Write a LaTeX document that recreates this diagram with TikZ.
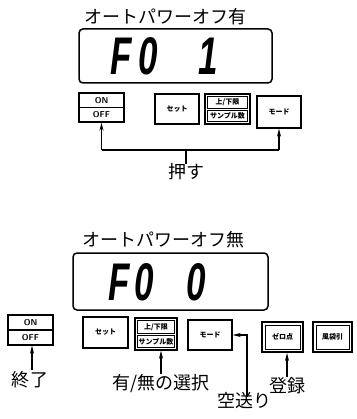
\documentclass[tikz,border=0pt]{standalone}
\usepackage{fontspec}
\newfontfamily\jp{Noto Sans CJK JP}
\newfontfamily\seg{Liberation Sans}
\usetikzlibrary{arrows.meta}
\begin{document}
\begin{tikzpicture}[x=1pt,y=-1pt,
  disp/.style={draw,line width=1.5pt,rounded corners=4pt,inner sep=0pt},
  keybox/.style={draw,line width=1.4pt,inner sep=0pt,minimum height=30pt},
  keytxt/.style={font=\jp\fontsize{7}{7}\selectfont\bfseries,inner sep=0pt},
  swtxt/.style={font=\sffamily\bfseries\fontsize{8.5}{8.5}\selectfont,inner sep=0pt},
  title/.style={font=\jp\fontsize{18}{18}\selectfont,inner sep=0pt},
  lbl/.style={font=\jp\fontsize{18}{18}\selectfont,inner sep=0pt},
  digits/.style={font=\seg\bfseries\itshape\fontsize{53}{53}\selectfont,inner sep=0pt},
  arr/.style={line width=1.4pt,-{Stealth[length=8pt,width=4pt]}},
  conn/.style={line width=1.4pt}]
\useasboundingbox (0,0) rectangle (356,419);
\fill[white] (0,0) rectangle (356,419);

% ---------- upper part ----------
\node[title] (t1) at (165,17) {オートパワーオフ有};
\node[disp,minimum width=193pt,minimum height=54pt] (d1) at (175.5,56) {};
\node[digits,anchor=base west] (f1) at (110,75)
  {\scalebox{0.66}[1]{\makebox[42.4pt][l]{F}\makebox[42.4pt][l]{0}\makebox[42.4pt][l]{}\makebox[42.4pt][c]{1}}};

\node[keybox,minimum width=45pt,minimum height=29pt] (onoff1) at (101.5,107.5) {};
\draw[line width=1.4pt] (onoff1.west) -- (onoff1.east);
\node[swtxt] (on1) at (101.5,100.5) {ON};
\node[swtxt] (off1) at (101.5,115) {OFF};

\node[keybox,minimum width=44pt] (set1) at (177,109) {};
\node[keytxt] (set1t) at (177,109) {セット};

\node[keybox,minimum width=45pt] (ul1) at (227.5,109) {};
\draw[line width=0.9pt] (207.5,96.5) rectangle (247.5,108.5);
\draw[line width=0.9pt] (207.5,110.5) rectangle (247.5,121.5);
\node[keytxt] (ul1a) at (227.5,102.5) {上/下限};
\node[keytxt] (ul1b) at (227.5,116) {サンプル数};

\node[keybox,minimum width=44pt,minimum height=32pt] (mode1) at (279,112) {};
\node[keytxt] (mode1t) at (279,112) {モード};

\coordinate (bus) at (186,150);
\node[lbl] (push) at (186,172) {押す};
\draw[arr] (onoff1.south |- bus) -- (onoff1.south);
\draw[arr] (mode1.south |- bus) -- (mode1.south);
\draw[conn] (onoff1.south |- bus) -- (mode1.south |- bus);
\draw[conn] (bus) -- (push.north);

% ---------- lower part ----------
\node[title] (t2) at (163,240) {オートパワーオフ無};
\node[disp,minimum width=195pt,minimum height=57pt] (d2) at (170.5,281.5) {};
\node[digits,anchor=base west] (f2) at (108,300)
  {\scalebox{0.66}[1]{\makebox[39.8pt][l]{F}\makebox[39.8pt][l]{0}\makebox[39.8pt][l]{}\makebox[39.8pt][l]{0}}};

\node[keybox,minimum width=45pt,minimum height=30pt] (onoff2) at (30.5,330) {};
\draw[line width=1.4pt] (onoff2.west) -- (onoff2.east);
\node[swtxt] (on2) at (30.5,323) {ON};
\node[swtxt] (off2) at (30.5,337.5) {OFF};

\node[keybox,minimum width=45pt,minimum height=31pt] (set2) at (105.5,332.5) {};
\node[keytxt] (set2t) at (105.5,332.5) {セット};

\node[keybox,minimum width=42pt,minimum height=32pt] (ul2) at (156,334) {};
\draw[line width=0.9pt] (137.5,320.5) rectangle (174.5,333.5);
\draw[line width=0.9pt] (137.5,335.5) rectangle (174.5,347.5);
\node[keytxt] (ul2a) at (156,327) {上/下限};
\node[keytxt] (ul2b) at (156,341.5) {サンプル数};

\node[keybox,minimum width=44pt,minimum height=30pt] (mode2) at (210,335) {};
\node[keytxt] (mode2t) at (210,335) {モード};

\node[keybox,line width=2pt,minimum width=41pt] (zero) at (282.5,337) {};
\draw[line width=0.9pt] (265,325) rectangle (300,349);
\node[keytxt] (zerot) at (282.5,337) {ゼロ点};

\node[keybox,line width=2pt,minimum width=39pt] (tare) at (332.5,337) {};
\draw[line width=0.9pt] (316,325) rectangle (349,349);
\node[keytxt] (taret) at (332.5,337) {風袋引};

\node[lbl] (end) at (30,380) {終了};
\node[lbl] (sel) at (161,384) {有/無の選択};
\node[lbl] (reg) at (287,386) {登録};
\node[lbl] (feed) at (244,401) {空送り};

\draw[arr] (end.north) ++(2,-1) coordinate (e0) -- (e0 |- onoff2.south);
\draw[arr] (sel.north) ++(0,-1) coordinate (s0) -- (s0 |- ul2.south);
\draw[arr] (reg.north) ++(0,-1) coordinate (r0) -- (r0 |- zero.south);
\coordinate (fd) at (247,397);
\draw[arr] (fd) |- (mode2.east);
\end{tikzpicture}
\end{document}
